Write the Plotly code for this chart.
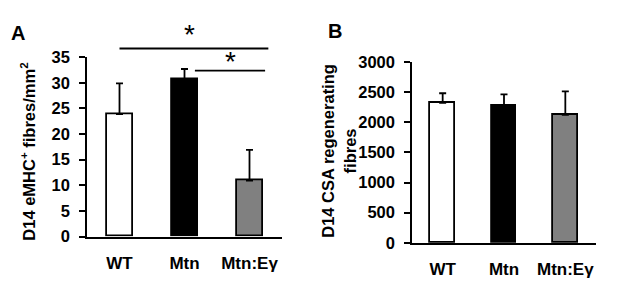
import plotly.graph_objects as go

categories = ["WT", "Mtn", "Mtn:Eγ"]
emhc_mean = [23.9, 30.7, 10.9]
emhc_err = [6.0, 2.0, 6.0]
csa_mean = [2320, 2270, 2120]
csa_err = [160, 190, 390]
bar_colors = ["#ffffff", "#000000", "#808080"]
left_ticks = [0, 5, 10, 15, 20, 25, 30, 35]
right_ticks = [0, 500, 1000, 1500, 2000, 2500, 3000]
# significance brackets: (x from, x to, y value) in panel A data units
sig_lines = [(0.0, 2.29, 36.7), (1.16, 2.24, 32.4)]
sig_stars = [(1.07, 39.4), (1.715, 34.1)]

# page body has an 8px margin; lay out in page pixels and convert
OFF = 8
W, H = 617 - OFF, 286 - OFF
FONT = "Liberation Sans, Arial, sans-serif"


def px(x):
    return (x - OFF) / W


def py(y):
    return 1 - (y - OFF) / H


xdom1 = [px(87), px(282)]
ydom1 = [py(242.7), py(51)]
xdom2 = [px(412), px(596)]
ydom2 = [py(249.5), py(56)]
xr = [-0.5, 2.5]
yr1 = [0, 35]
yr2 = [0, 3000]


def to_paper(v, dom, rng):
    return dom[0] + (v - rng[0]) / (rng[1] - rng[0]) * (dom[1] - dom[0])


fig = go.Figure()
for xa, ya, vals, errs in [("x", "y", emhc_mean, emhc_err), ("x2", "y2", csa_mean, csa_err)]:
    fig.add_trace(go.Bar(
        x=categories, y=vals, xaxis=xa, yaxis=ya, width=0.4,
        marker=dict(color=bar_colors, line=dict(color="black", width=1.8)),
        error_y=dict(type="data", array=errs, arrayminus=[0] * 3, symmetric=False,
                     color="black", thickness=1.8, width=3.5),
        showlegend=False, hoverinfo="skip",
    ))

axis_common = dict(showline=True, linecolor="black", linewidth=1.5, showgrid=False, zeroline=False)
ytick_font = dict(family=FONT, size=16.5, color="black", weight="bold")
xtick_font = dict(family=FONT, size=17, color="black", weight="bold")
xax = dict(range=xr, ticks="", tickfont=xtick_font, ticklabelstandoff=10, **axis_common)
yax = dict(ticks="outside", ticklen=6, tickwidth=1.5, tickcolor="black", tickfont=ytick_font,
           ticklabelstandoff=6, **axis_common)

fig.update_layout(
    width=W, height=H, margin=dict(l=0, r=0, t=0, b=0),
    paper_bgcolor="white", plot_bgcolor="white",
    bargap=0,
    xaxis=dict(domain=xdom1, anchor="y", **xax),
    yaxis=dict(domain=ydom1, anchor="x", range=yr1, tickvals=left_ticks, **yax),
    xaxis2=dict(domain=xdom2, anchor="y2", **xax),
    yaxis2=dict(domain=ydom2, anchor="x2", range=yr2, tickvals=right_ticks, **yax),
)

shapes = []
for x0, x1, yv in sig_lines:
    shapes.append(dict(type="line", xref="paper", yref="paper",
                       x0=to_paper(x0, xdom1, xr), x1=to_paper(x1, xdom1, xr),
                       y0=to_paper(yv, ydom1, yr1), y1=to_paper(yv, ydom1, yr1),
                       line=dict(color="black", width=1.8)))
fig.update_layout(shapes=shapes)

ann = []
for xs, ys in sig_stars:
    ann.append(dict(text="*", xref="paper", yref="paper", x=to_paper(xs, xdom1, xr),
                    y=to_paper(ys, ydom1, yr1), showarrow=False,
                    font=dict(family=FONT, size=28, color="black"), xanchor="center", yanchor="middle"))
ann.append(dict(text="<b>A</b>", xref="paper", yref="paper", x=px(18), y=py(25), showarrow=False,
                font=dict(family=FONT, size=20, color="black"), xanchor="center", yanchor="middle"))
ann.append(dict(text="<b>B</b>", xref="paper", yref="paper", x=px(335), y=py(23), showarrow=False,
                font=dict(family=FONT, size=20, color="black"), xanchor="center", yanchor="middle"))
ann.append(dict(text="<b>D14 eMHC<sup>+</sup> fibres/mm<sup>2</sup></b>", xref="paper", yref="paper",
                x=px(28), y=py(152), showarrow=False, textangle=-90,
                font=dict(family=FONT, size=16.5, color="black"), xanchor="center", yanchor="middle"))
ann.append(dict(text="<b>D14 CSA regenerating<br>fibres</b>", xref="paper", yref="paper",
                x=px(339), y=py(151), showarrow=False, textangle=-90,
                font=dict(family=FONT, size=16.5, color="black"), xanchor="center", yanchor="middle"))
fig.update_layout(annotations=ann)

fig.write_html("out.html")
